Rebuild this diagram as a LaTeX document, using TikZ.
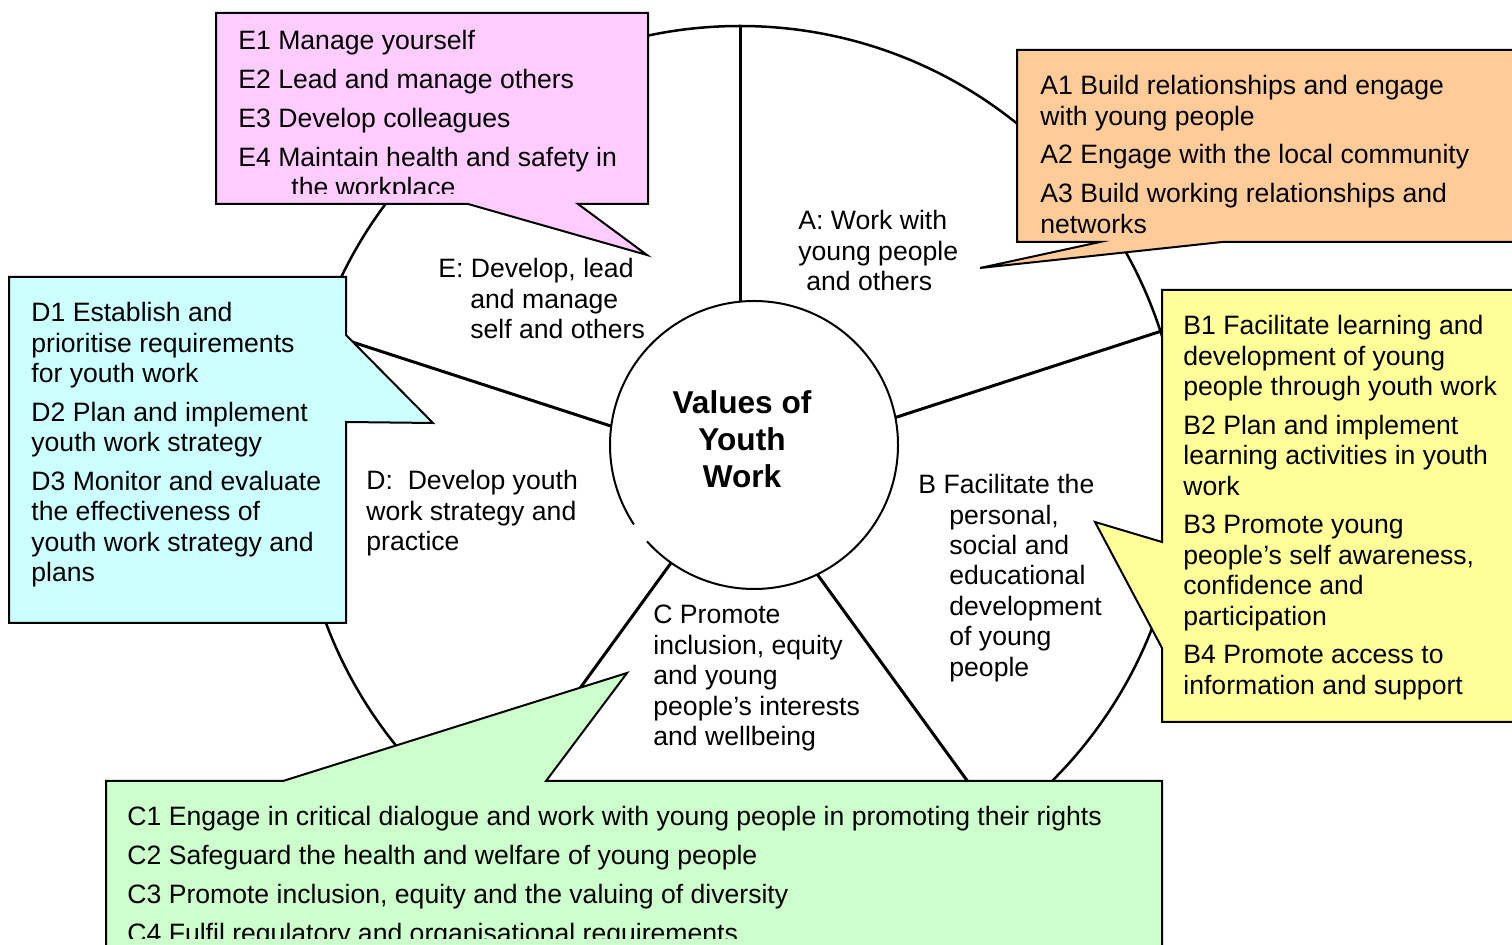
\documentclass[tikz,border=0pt]{standalone}
\usepackage{fontspec}
\setmainfont{Liberation Sans}
\definecolor{epink}{HTML}{FFCCFF}
\definecolor{aorange}{HTML}{FFCC99}
\definecolor{byellow}{HTML}{FFFF99}
\definecolor{ccgreen}{HTML}{CCFFCC}
\definecolor{dcyan}{HTML}{CCFFFF}
\tikzset{
  spoke/.style={line width=1.5pt},
  bubble/.style={draw, line width=1pt, line join=miter},
  listtext/.style={anchor=north west, align=left, inner sep=0pt, font=\fontsize{13.3}{15.2}\selectfont},
}
\begin{document}
\begin{tikzpicture}[x=0.5pt, y=-0.5pt]
  \useasboundingbox (0,0) rectangle (1512,945);

  % the wheel and its five spokes
  \node[circle, draw, line width=1.25pt, minimum size=884pt*0.5, inner sep=0pt, outer sep=0pt] (wheel) at (740,468) {};
  \foreach \ang in {90,18,-54,-126,162}{
    \draw[spoke] (wheel.center) -- (wheel.\ang);
  }

  % hub, white on top of the spokes
  \node[circle, fill=white, minimum size=144pt, inner sep=0pt, outer sep=0pt] (values) at (754,445) {};
  \draw[line width=1pt] (values.222) arc[start angle=222, end angle=573.5, radius=72pt];
  \node[align=center, inner sep=0pt, font=\bfseries\fontsize{15.8}{18.5}\selectfont] (valuestext) at (742,439) {Values of\\Youth\\Work};

  % sector labels
  \node[listtext] (alabel) at (798,210) {A: Work with\\young people\\\hspace*{4pt}and others};
  \node[listtext] (elabel) at (438,258) {E: Develop, lead\\\hspace*{16pt}and manage\\\hspace*{16pt}self and others};
  \node[listtext] (dlabel) at (366,470) {D:\ \ Develop youth\\work strategy and\\practice};
  \node[listtext] (blabel) at (918,474) {B Facilitate the\\\hspace*{15.5pt}personal,\\\hspace*{15.5pt}social and\\\hspace*{15.5pt}educational\\\hspace*{15.5pt}development\\\hspace*{15.5pt}of young\\\hspace*{15.5pt}people};
  \node[listtext] (clabel) at (653,605) {C Promote\\inclusion, equity\\and young\\people’s interests\\and wellbeing};

  % callouts
  \filldraw[bubble, fill=epink] (216,13) -- (648,13) -- (648,204) -- (578,204) -- (647,255) -- (468,204) -- (216,204) -- cycle;
  \filldraw[bubble, fill=aorange] (1017,50) -- (1520,50) -- (1520,242) -- (1222,242) -- (980,268) -- (1100,242) -- (1017,242) -- cycle;
  \filldraw[bubble, fill=byellow] (1162,290) -- (1520,290) -- (1520,722) -- (1162,722) -- (1162,648) -- (1095,522) -- (1162,542) -- cycle;
  \filldraw[bubble, fill=dcyan] (9,277) -- (346,277) -- (346,335) -- (433,423) -- (346,422) -- (346,623) -- (9,623) -- cycle;
  \filldraw[bubble, fill=ccgreen] (106,781) -- (283,781) -- (627,673) -- (546,781) -- (1162,781) -- (1162,960) -- (106,960) -- cycle;

  % callout texts
  \begin{scope}
    \clip (216,13) rectangle (648,194);
    \node[listtext] (elist) at (238,30) {E1 Manage yourself\\[4.2pt]E2 Lead and manage others\\[4.2pt]E3 Develop colleagues\\[4.2pt]E4 Maintain health and safety in\\\hspace*{26.5pt}the workplace};
  \end{scope}
  \node[listtext] (alist) at (1040,75) {A1 Build relationships and engage\\with young people\\[4.2pt]A2 Engage with the local community\\[4.2pt]A3 Build working relationships and\\networks};
  \node[listtext] (blist) at (1183,315) {B1 Facilitate learning and\\development of young\\people through youth work\\[4.2pt]B2 Plan and implement\\learning activities in youth\\work\\[4.2pt]B3 Promote young\\people’s self awareness,\\confidence and\\participation\\[4.2pt]B4 Promote access to\\information and support};
  \node[listtext] (dlist) at (31,302) {D1 Establish and\\prioritise requirements\\for youth work\\[4.2pt]D2 Plan and implement\\youth work strategy\\[4.2pt]D3 Monitor and evaluate\\the effectiveness of\\youth work strategy and\\plans};
  \begin{scope}
    \clip (106,781) rectangle (1162,939);
    \node[listtext] (clist) at (127,806) {C1 Engage in critical dialogue and work with young people in promoting their rights\\[4.2pt]C2 Safeguard the health and welfare of young people\\[4.2pt]C3 Promote inclusion, equity and the valuing of diversity\\[4.2pt]C4 Fulfil regulatory and organisational requirements};
  \end{scope}
\end{tikzpicture}
\end{document}
